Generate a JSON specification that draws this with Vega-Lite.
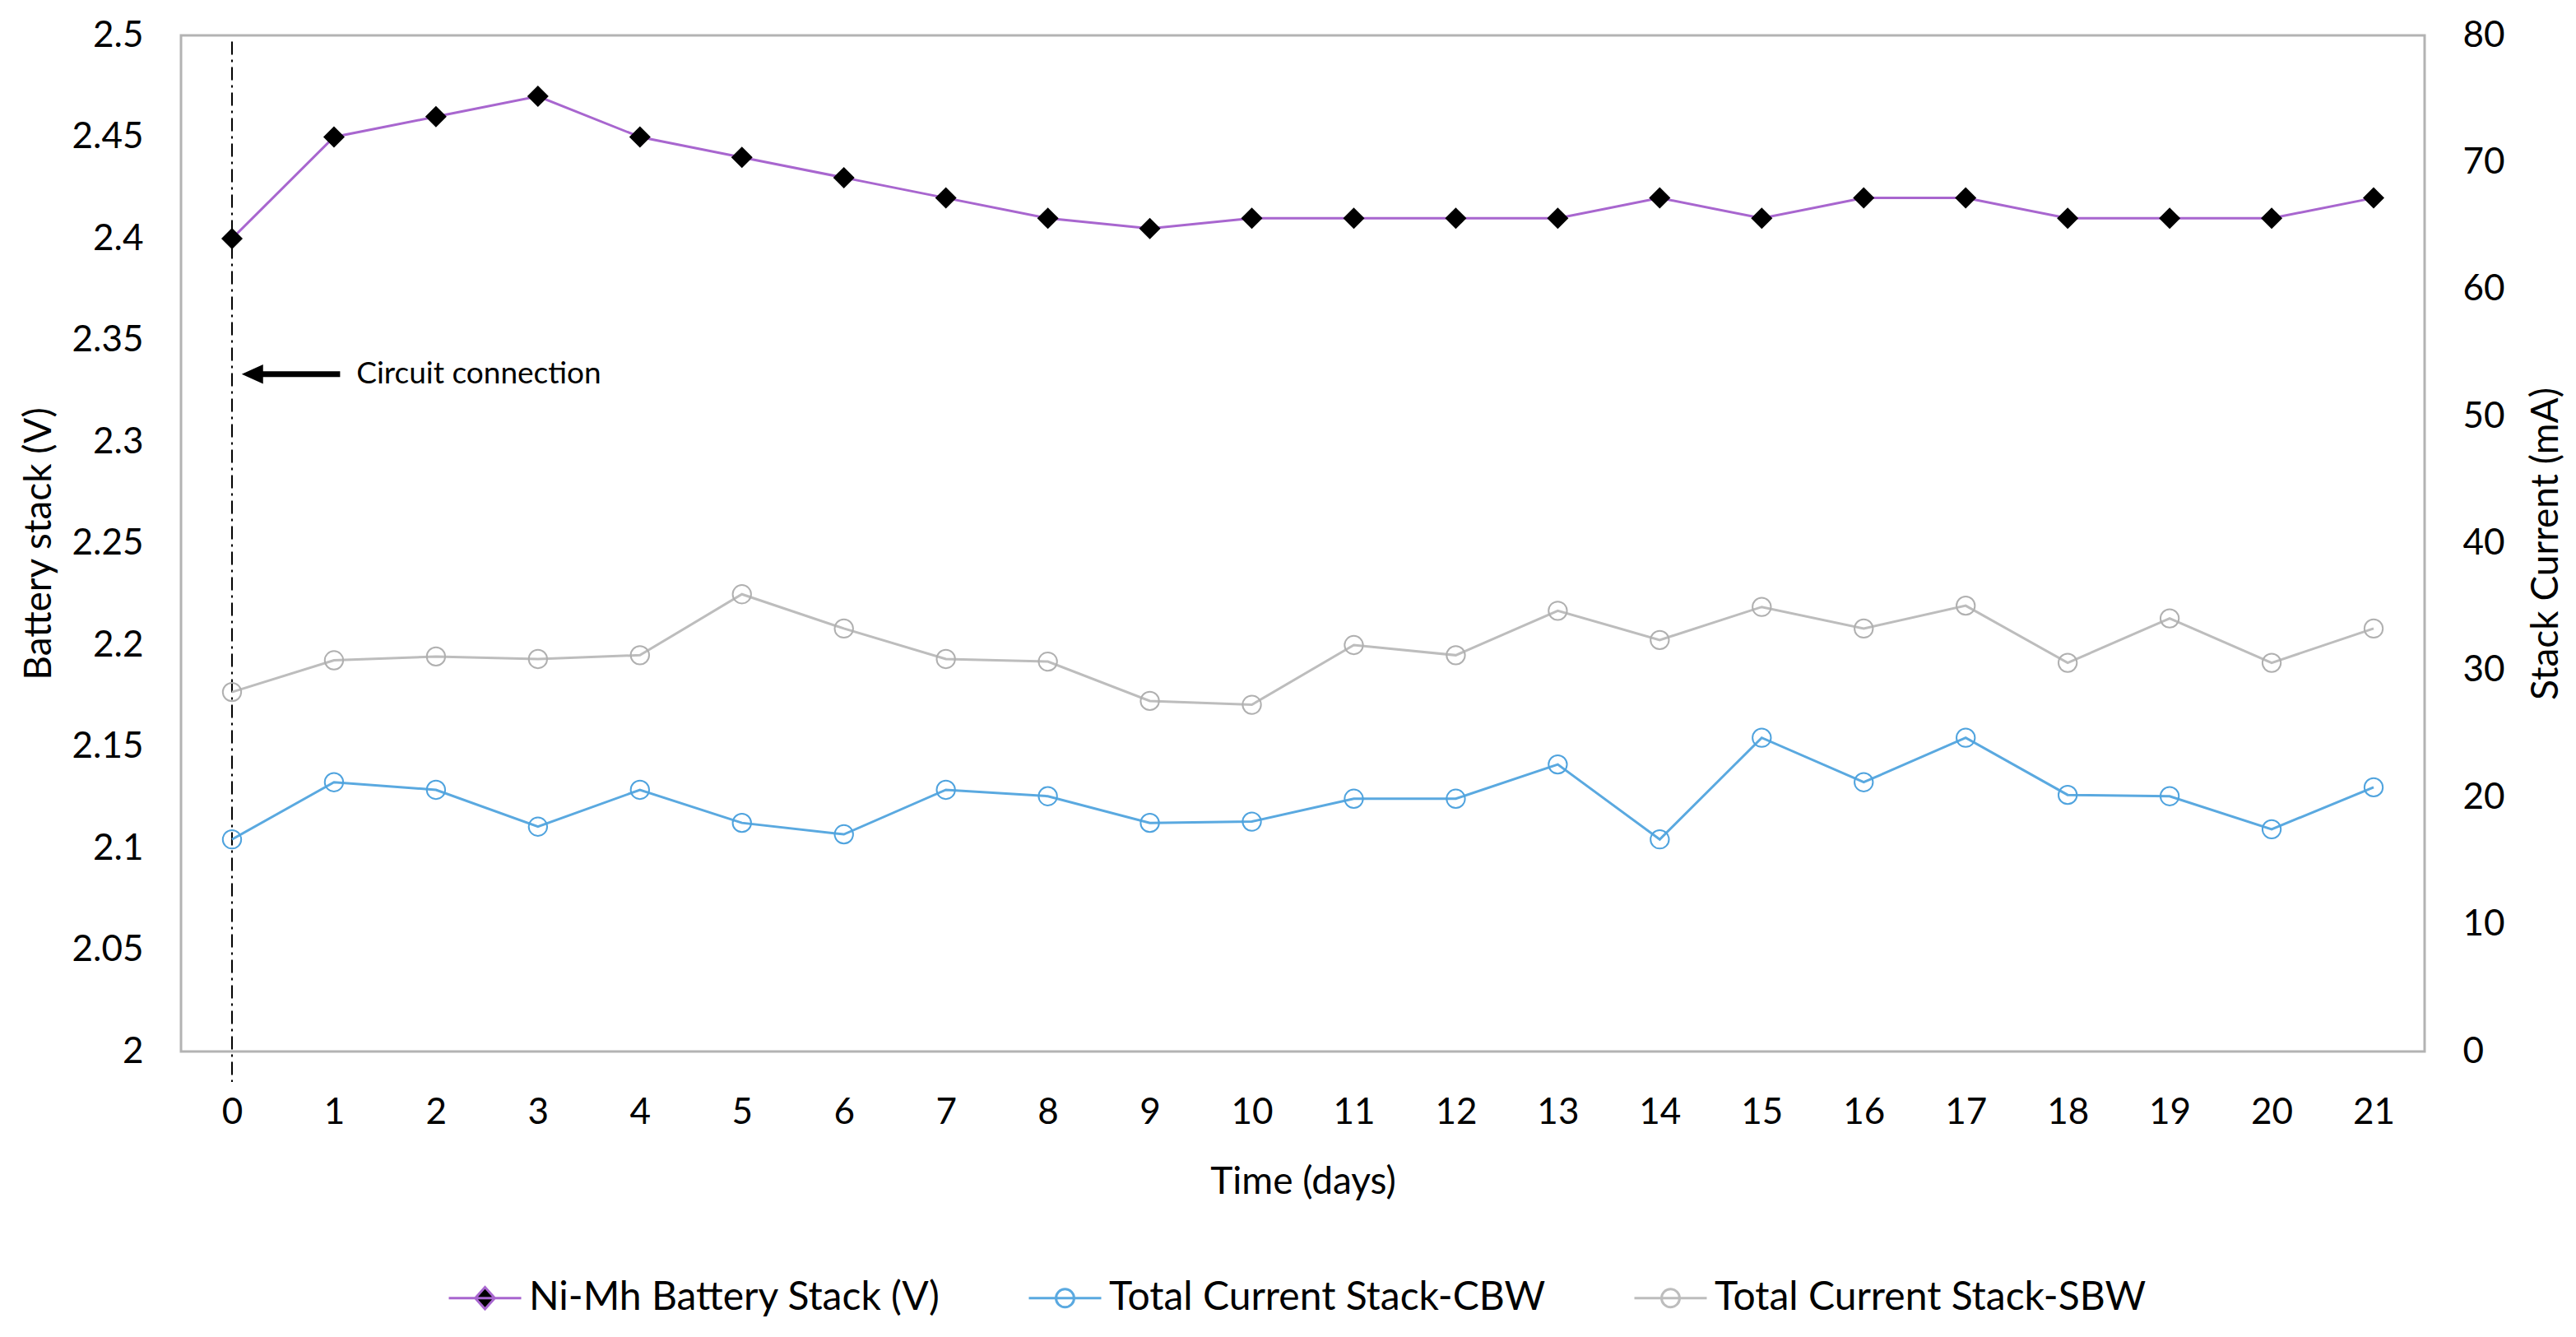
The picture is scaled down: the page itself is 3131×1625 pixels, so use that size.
{
  "$schema": "https://vega.github.io/schema/vega-lite/v6.json",
  "autosize": "none",
  "width": 2727,
  "height": 1235,
  "padding": {"left": 220, "top": 43, "right": 184, "bottom": 347},
  "background": "white",
  "config": {
    "view": {"stroke": "#b3b3b3", "strokeWidth": 3},
    "font": "Lato",
    "axis": {
      "labelFont": "Lato", "titleFont": "Lato", "labelColor": "#000000", "titleColor": "#000000",
      "grid": false, "domain": false, "ticks": false,
      "labelFontSize": 44, "titleFontSize": 46, "titleFontWeight": "normal"
    },
    "legend": {
      "orient": "none", "legendX": 324, "legendY": 1489, "direction": "horizontal",
      "labelFont": "Lato", "labelFontSize": 48, "labelColor": "#000000", "labelLimit": 0,
      "symbolSize": 7744, "symbolStrokeWidth": 3, "labelOffset": 8, "columnPadding": 101,
      "padding": 0, "title": null
    }
  },
  "datasets": {
    "main": [
      {"day": 0, "series": "Ni-Mh Battery Stack (V)", "value": 2.40},
      {"day": 1, "series": "Ni-Mh Battery Stack (V)", "value": 2.45},
      {"day": 2, "series": "Ni-Mh Battery Stack (V)", "value": 2.46},
      {"day": 3, "series": "Ni-Mh Battery Stack (V)", "value": 2.47},
      {"day": 4, "series": "Ni-Mh Battery Stack (V)", "value": 2.45},
      {"day": 5, "series": "Ni-Mh Battery Stack (V)", "value": 2.44},
      {"day": 6, "series": "Ni-Mh Battery Stack (V)", "value": 2.43},
      {"day": 7, "series": "Ni-Mh Battery Stack (V)", "value": 2.42},
      {"day": 8, "series": "Ni-Mh Battery Stack (V)", "value": 2.41},
      {"day": 9, "series": "Ni-Mh Battery Stack (V)", "value": 2.405},
      {"day": 10, "series": "Ni-Mh Battery Stack (V)", "value": 2.41},
      {"day": 11, "series": "Ni-Mh Battery Stack (V)", "value": 2.41},
      {"day": 12, "series": "Ni-Mh Battery Stack (V)", "value": 2.41},
      {"day": 13, "series": "Ni-Mh Battery Stack (V)", "value": 2.41},
      {"day": 14, "series": "Ni-Mh Battery Stack (V)", "value": 2.42},
      {"day": 15, "series": "Ni-Mh Battery Stack (V)", "value": 2.41},
      {"day": 16, "series": "Ni-Mh Battery Stack (V)", "value": 2.42},
      {"day": 17, "series": "Ni-Mh Battery Stack (V)", "value": 2.42},
      {"day": 18, "series": "Ni-Mh Battery Stack (V)", "value": 2.41},
      {"day": 19, "series": "Ni-Mh Battery Stack (V)", "value": 2.41},
      {"day": 20, "series": "Ni-Mh Battery Stack (V)", "value": 2.41},
      {"day": 21, "series": "Ni-Mh Battery Stack (V)", "value": 2.42},
      {"day": 0, "series": "Total Current Stack-CBW", "value": 16.7},
      {"day": 1, "series": "Total Current Stack-CBW", "value": 21.2},
      {"day": 2, "series": "Total Current Stack-CBW", "value": 20.6},
      {"day": 3, "series": "Total Current Stack-CBW", "value": 17.7},
      {"day": 4, "series": "Total Current Stack-CBW", "value": 20.6},
      {"day": 5, "series": "Total Current Stack-CBW", "value": 18.0},
      {"day": 6, "series": "Total Current Stack-CBW", "value": 17.1},
      {"day": 7, "series": "Total Current Stack-CBW", "value": 20.6},
      {"day": 8, "series": "Total Current Stack-CBW", "value": 20.1},
      {"day": 9, "series": "Total Current Stack-CBW", "value": 18.0},
      {"day": 10, "series": "Total Current Stack-CBW", "value": 18.1},
      {"day": 11, "series": "Total Current Stack-CBW", "value": 19.9},
      {"day": 12, "series": "Total Current Stack-CBW", "value": 19.9},
      {"day": 13, "series": "Total Current Stack-CBW", "value": 22.6},
      {"day": 14, "series": "Total Current Stack-CBW", "value": 16.7},
      {"day": 15, "series": "Total Current Stack-CBW", "value": 24.7},
      {"day": 16, "series": "Total Current Stack-CBW", "value": 21.2},
      {"day": 17, "series": "Total Current Stack-CBW", "value": 24.7},
      {"day": 18, "series": "Total Current Stack-CBW", "value": 20.2},
      {"day": 19, "series": "Total Current Stack-CBW", "value": 20.1},
      {"day": 20, "series": "Total Current Stack-CBW", "value": 17.5},
      {"day": 21, "series": "Total Current Stack-CBW", "value": 20.8},
      {"day": 0, "series": "Total Current Stack-SBW", "value": 28.3},
      {"day": 1, "series": "Total Current Stack-SBW", "value": 30.8},
      {"day": 2, "series": "Total Current Stack-SBW", "value": 31.1},
      {"day": 3, "series": "Total Current Stack-SBW", "value": 30.9},
      {"day": 4, "series": "Total Current Stack-SBW", "value": 31.2},
      {"day": 5, "series": "Total Current Stack-SBW", "value": 36.0},
      {"day": 6, "series": "Total Current Stack-SBW", "value": 33.3},
      {"day": 7, "series": "Total Current Stack-SBW", "value": 30.9},
      {"day": 8, "series": "Total Current Stack-SBW", "value": 30.7},
      {"day": 9, "series": "Total Current Stack-SBW", "value": 27.6},
      {"day": 10, "series": "Total Current Stack-SBW", "value": 27.3},
      {"day": 11, "series": "Total Current Stack-SBW", "value": 32.0},
      {"day": 12, "series": "Total Current Stack-SBW", "value": 31.2},
      {"day": 13, "series": "Total Current Stack-SBW", "value": 34.7},
      {"day": 14, "series": "Total Current Stack-SBW", "value": 32.4},
      {"day": 15, "series": "Total Current Stack-SBW", "value": 35.0},
      {"day": 16, "series": "Total Current Stack-SBW", "value": 33.3},
      {"day": 17, "series": "Total Current Stack-SBW", "value": 35.1},
      {"day": 18, "series": "Total Current Stack-SBW", "value": 30.6},
      {"day": 19, "series": "Total Current Stack-SBW", "value": 34.1},
      {"day": 20, "series": "Total Current Stack-SBW", "value": 30.6},
      {"day": 21, "series": "Total Current Stack-SBW", "value": 33.3}
    ]
  },
  "data": {"name": "main"},
  "encoding": {
    "x": {
      "field": "day", "type": "quantitative",
      "scale": {"domain": [-0.5, 21.5], "nice": false, "zero": false},
      "axis": {
        "values": [0,1,2,3,4,5,6,7,8,9,10,11,12,13,14,15,16,17,18,19,20,21],
        "format": "d", "title": "Time (days)", "labelPadding": 52, "titlePadding": 40
      }
    }
  },
  "layer": [
    {
      "encoding": {
        "y": {
          "field": "value", "type": "quantitative",
          "scale": {"domain": [2, 2.5], "nice": false, "zero": false},
          "axis": {
            "values": [2, 2.05, 2.1, 2.15, 2.2, 2.25, 2.3, 2.35, 2.4, 2.45, 2.5],
            "format": "~g", "title": "Battery stack (V)", "labelPadding": 46, "titlePadding": 16
          }
        }
      },
      "layer": [
        {
          "data": {"values": [{"day": 0, "value": 2.497, "value2": 1.985}]},
          "mark": {"type": "rule", "color": "#000000", "strokeWidth": 2, "strokeDash": [16, 6, 3, 6], "clip": false},
          "encoding": {"y2": {"field": "value2"}}
        },
        {
          "data": {"values": [{"day": 0.25, "day2": 1.06, "value": 2.3333}]},
          "mark": {"type": "rule", "color": "#000000", "strokeWidth": 7},
          "encoding": {"x2": {"field": "day2"}}
        },
        {
          "data": {"values": [{"day": 0.2, "value": 2.3333}]},
          "mark": {"type": "point", "shape": "M-1,0L1,-0.9L1,0.9Z", "filled": true, "color": "#000000", "size": 676, "opacity": 1}
        },
        {
          "data": {"values": [{"day": 1.22, "value": 2.3333, "label": "Circuit connection"}]},
          "mark": {"type": "text", "align": "left", "baseline": "middle", "font": "Lato", "fontSize": 37, "color": "#000000"},
          "encoding": {"text": {"field": "label"}}
        },
        {
          "transform": [{"filter": "datum.series === 'Ni-Mh Battery Stack (V)'"}],
          "mark": {"type": "line", "color": "#a866cf", "strokeWidth": 3}
        },
        {
          "transform": [{"filter": "datum.series === 'Ni-Mh Battery Stack (V)'"}],
          "mark": {"type": "point", "shape": "diamond", "filled": true, "color": "#000000", "size": 676, "opacity": 1}
        }
      ]
    },
    {
      "encoding": {
        "y": {
          "field": "value", "type": "quantitative",
          "scale": {"domain": [0, 80], "nice": false},
          "axis": {
            "orient": "right", "values": [0, 10, 20, 30, 40, 50, 60, 70, 80],
            "title": "Stack Current (mA)", "titleAngle": 270, "titleBaseline": "top",
            "labelPadding": 46, "titlePadding": 28
          }
        }
      },
      "layer": [
        {
          "transform": [{"filter": "datum.series === 'Total Current Stack-SBW'"}],
          "mark": {"type": "line", "color": "#bdbdbd", "strokeWidth": 3}
        },
        {
          "transform": [{"filter": "datum.series === 'Total Current Stack-SBW'"}],
          "mark": {"type": "point", "shape": "circle", "filled": false, "color": "#b0b0b0", "size": 500, "strokeWidth": 2, "opacity": 1}
        },
        {
          "transform": [{"filter": "datum.series === 'Total Current Stack-CBW'"}],
          "mark": {"type": "line", "color": "#5aa9e0", "strokeWidth": 3}
        },
        {
          "transform": [{"filter": "datum.series === 'Total Current Stack-CBW'"}],
          "mark": {"type": "point", "shape": "circle", "filled": false, "color": "#4fa3de", "size": 500, "strokeWidth": 2, "opacity": 1}
        }
      ]
    },
    {
      "data": {"values": [
        {"day": 0, "series": "Ni-Mh Battery Stack (V)"},
        {"day": 0, "series": "Total Current Stack-CBW"},
        {"day": 0, "series": "Total Current Stack-SBW"}
      ]},
      "mark": {"type": "point", "filled": true, "opacity": 0},
      "encoding": {
        "y": {"value": 0},
        "shape": {
          "field": "series", "type": "nominal",
          "scale": {
            "domain": ["Ni-Mh Battery Stack (V)", "Total Current Stack-CBW", "Total Current Stack-SBW"],
            "range": [
              "M-1,0H1M0,-0.3L0.27,0L0,0.3L-0.27,0Z",
              "M-1,0H1M0.25,0A0.25,0.25 0 1,1 -0.25,0A0.25,0.25 0 1,1 0.25,0Z",
              "M-1,0H1M0.25,0A0.25,0.25 0 1,1 -0.25,0A0.25,0.25 0 1,1 0.25,0Z"
            ]
          },
          "legend": {"title": null, "encode": {"symbols": {"update": {"opacity": {"value": 1}}}}}
        },
        "stroke": {
          "field": "series", "type": "nominal",
          "scale": {
            "domain": ["Ni-Mh Battery Stack (V)", "Total Current Stack-CBW", "Total Current Stack-SBW"],
            "range": ["#a866cf", "#5aa9e0", "#bdbdbd"]
          },
          "legend": {"title": null, "encode": {"symbols": {"update": {"opacity": {"value": 1}}}}}
        },
        "fill": {
          "field": "series", "type": "nominal",
          "scale": {
            "domain": ["Ni-Mh Battery Stack (V)", "Total Current Stack-CBW", "Total Current Stack-SBW"],
            "range": ["#000000", "#ffffff", "#ffffff"]
          },
          "legend": {"title": null, "encode": {"symbols": {"update": {"opacity": {"value": 1}}}}}
        }
      }
    }
  ],
  "resolve": {"scale": {"y": "independent"}}
}
